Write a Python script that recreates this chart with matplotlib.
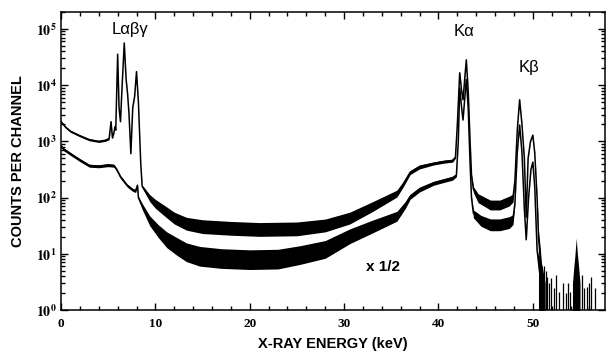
import matplotlib
matplotlib.use("Agg")
import matplotlib.pyplot as plt
import numpy as np
from matplotlib.ticker import MultipleLocator, LogLocator, FuncFormatter, NullFormatter

plt.rcParams["mathtext.fontset"] = "stix"

# full-scale spectrum: energy (keV), log10 counts, noise half-width (decades)
full_kev = [0.0, 0.5, 1.0, 2.0, 3.0, 4.0, 4.7, 5.1, 5.3, 5.45, 5.6, 5.72, 5.8,
            6.0, 6.15, 6.3, 6.45, 6.7, 6.9, 7.05, 7.2, 7.4, 7.6, 7.8, 8.0, 8.2,
            8.45, 8.6, 9.0, 9.4, 10.0, 11.2, 12.0, 13.3, 15.0, 18.0, 21.0, 25.0,
            28.0, 30.6, 33.0, 35.6, 36.3, 37.0, 38.0, 39.5, 40.5, 41.5, 41.8,
            42.0, 42.25, 42.45, 42.6, 42.95, 43.15, 43.35, 43.5, 43.7, 44.2,
            45.5, 46.5, 47.5, 47.9, 48.1, 48.35, 48.6, 48.85, 49.1, 49.3, 49.5,
            49.75, 50.0, 50.2, 50.45, 50.6, 50.8, 51.0]
full_log = [3.35, 3.25, 3.18, 3.10, 3.03, 3.00, 3.02, 3.05, 3.35, 3.06, 3.15, 3.26, 3.2,
            4.55, 3.6, 3.35, 3.9, 4.75, 4.1, 3.85, 3.5, 2.78, 3.6, 3.8, 4.24, 3.7,
            2.6, 2.2, 2.1, 2.0, 1.9, 1.75, 1.65, 1.55, 1.5, 1.47, 1.45, 1.46,
            1.52, 1.65, 1.85, 2.08, 2.25, 2.45, 2.55, 2.61, 2.64, 2.66, 2.72,
            3.3, 4.22, 3.9, 3.74, 4.45, 3.9, 3.0, 2.4, 2.15, 2.0,
            1.88, 1.88, 1.95, 2.0, 2.3, 3.2, 3.74, 3.3, 2.7, 1.65, 2.7,
            3.0, 3.11, 2.8, 2.0, 1.3, 0.9, 0.4]
full_noise = [0.02, 0.02, 0.02, 0.02, 0.02, 0.02, 0.02, 0.02, 0.01, 0.01, 0.01, 0.01, 0.01,
              0.01, 0.01, 0.01, 0.01, 0.01, 0.01, 0.01, 0.01, 0.01, 0.01, 0.01, 0.01, 0.01,
              0.01, 0.03, 0.05, 0.07, 0.09, 0.11, 0.12, 0.13, 0.14, 0.14, 0.14, 0.14,
              0.13, 0.12, 0.10, 0.07, 0.05, 0.04, 0.04, 0.03, 0.03, 0.03, 0.02,
              0.01, 0.01, 0.01, 0.01, 0.01, 0.01, 0.01, 0.02, 0.06, 0.09,
              0.10, 0.10, 0.10, 0.08, 0.02, 0.01, 0.01, 0.01, 0.01, 0.02, 0.01,
              0.01, 0.01, 0.01, 0.05, 0.15, 0.25, 0.3]

# half-scale spectrum ("x 1/2")
half_kev = [0.0, 0.3, 1.0, 2.0, 3.0, 4.0, 5.0, 5.6, 5.9, 6.3, 7.0, 7.6, 7.9, 8.1,
            8.2, 8.6, 9.4, 10.3, 11.2, 12.3, 13.3, 14.7, 17.0, 20.0, 23.0, 25.3,
            28.0, 30.6, 33.0, 35.6, 36.5, 37.0, 38.0, 39.5, 41.5, 41.9, 42.1,
            42.25, 42.45, 42.6, 42.95, 43.15, 43.35, 43.5, 43.7, 44.5, 45.5, 46.5,
            47.5, 47.9, 48.1, 48.35, 48.6, 48.85, 49.1, 49.3, 49.55, 49.8, 50.0,
            50.2, 50.45, 50.7, 51.0]
half_log = [2.92, 2.86, 2.78, 2.67, 2.57, 2.56, 2.58, 2.57, 2.5, 2.37, 2.22, 2.14, 2.12, 2.22,
            2.0, 1.85, 1.6, 1.42, 1.27, 1.15, 1.05, 0.98, 0.94, 0.92, 0.93, 1.0,
            1.1, 1.33, 1.5, 1.68, 1.88, 2.02, 2.15, 2.26, 2.35, 2.4, 3.0,
            3.95, 3.6, 3.38, 4.1, 3.6, 2.6, 2.0, 1.72, 1.6, 1.53, 1.53,
            1.57, 1.62, 1.9, 2.8, 3.29, 2.8, 1.8, 1.25, 2.0, 2.5, 2.63,
            2.2, 1.07, 0.7, 0.3]
half_noise = [0.03, 0.03, 0.03, 0.03, 0.03, 0.03, 0.03, 0.03, 0.03, 0.03, 0.03, 0.03, 0.03, 0.02,
              0.03, 0.06, 0.10, 0.13, 0.16, 0.18, 0.19, 0.20, 0.20, 0.20, 0.20, 0.19,
              0.18, 0.15, 0.13, 0.10, 0.07, 0.05, 0.05, 0.04, 0.04, 0.03, 0.01,
              0.01, 0.01, 0.01, 0.01, 0.01, 0.01, 0.02, 0.08, 0.11, 0.12, 0.12,
              0.12, 0.10, 0.03, 0.01, 0.01, 0.01, 0.01, 0.02, 0.01, 0.01, 0.01,
              0.01, 0.05, 0.2, 0.3]

# sparse counts above the K edge
tail_kev = [51.2, 51.35, 51.5, 51.7, 51.9, 52.2, 52.5, 52.8, 53.2, 53.5, 53.7, 53.95,
            55.2, 55.45, 55.7, 55.95, 56.2, 56.6]
tail_counts = [6.0, 5.0, 3.9, 3.0, 3.7, 2.5, 4.2, 2.1, 3.0, 2.0, 3.0, 2.1,
               4.2, 2.5, 2.6, 3.0, 3.9, 2.5]
bump_kev = [54.2, 54.35, 54.45, 54.6, 54.7, 54.85, 55.0]
bump_counts = [3.0, 6.0, 9.0, 19.0, 11.0, 6.0, 3.0]

fig = plt.figure(figsize=(6.06, 3.55), dpi=100)
ax = fig.add_axes([0.1007, 0.1268, 0.8969, 0.8394])

for kev, lg, nz in [(full_kev, full_log, full_noise), (half_kev, half_log, half_noise)]:
    kev = np.array(kev)
    lg = np.array(lg)
    nz = np.array(nz)
    # noise band: spikes reach further down than up
    ax.fill_between(kev, 10 ** (lg - nz), 10 ** (lg + 0.75 * nz), color="black", lw=0)
    ax.plot(kev, 10 ** lg, color="black", lw=1.1)

ax.vlines(tail_kev, 0.5, tail_counts, color="black", lw=0.9)
ax.fill_between(bump_kev, 0.5, bump_counts, color="black", lw=0)
ax.fill_between([50.6, 50.8, 51.0, 51.3], 0.5, [10.0, 8.0, 6.0, 3.0], color="black", lw=0)

ax.set_yscale("log")
ax.set_xlim(0, 57.6)
ax.set_ylim(1, 2e5)

ax.xaxis.set_major_locator(MultipleLocator(10))
ax.xaxis.set_minor_locator(MultipleLocator(2))
ax.yaxis.set_major_locator(LogLocator(base=10, numticks=10))
ax.yaxis.set_minor_locator(LogLocator(base=10, subs=np.arange(2, 10), numticks=20))
ax.yaxis.set_major_formatter(FuncFormatter(lambda v, p: r"$\mathbf{10^{%d}}$" % round(np.log10(v))))
ax.yaxis.set_minor_formatter(NullFormatter())
ax.tick_params(which="both", direction="in", top=True, right=True, width=1.0)
ax.tick_params(which="major", length=5)
ax.tick_params(which="minor", length=3)
ax.tick_params(axis="x", pad=6)
ax.tick_params(axis="y", pad=3)
for lab in ax.get_xticklabels():
    lab.set_family("Liberation Serif")
    lab.set_fontweight("bold")
    lab.set_fontsize(9.5)
for lab in ax.get_yticklabels():
    lab.set_fontsize(10)
for sp in ax.spines.values():
    sp.set_linewidth(1.1)

ax.set_xlabel("X-RAY ENERGY (keV)", family="Liberation Sans", fontweight="bold", fontsize=10.5, labelpad=5)
ax.set_ylabel("COUNTS PER CHANNEL", family="Liberation Sans", fontweight="bold", fontsize=10.5, labelpad=8)

ax.text(7.3, 9.6e4, "Lαβγ", family="Liberation Sans", fontsize=12, ha="center", va="center")
ax.text(42.7, 8.9e4, "Kα", family="Liberation Sans", fontsize=12, ha="center", va="center")
ax.text(49.6, 2.1e4, "Kβ", family="Liberation Sans", fontsize=12, ha="center", va="center")
ax.text(34.1, 5.8, "x 1/2", family="Liberation Sans", fontweight="bold", fontsize=11, ha="center", va="center")

plt.savefig("out.png", dpi=100)
